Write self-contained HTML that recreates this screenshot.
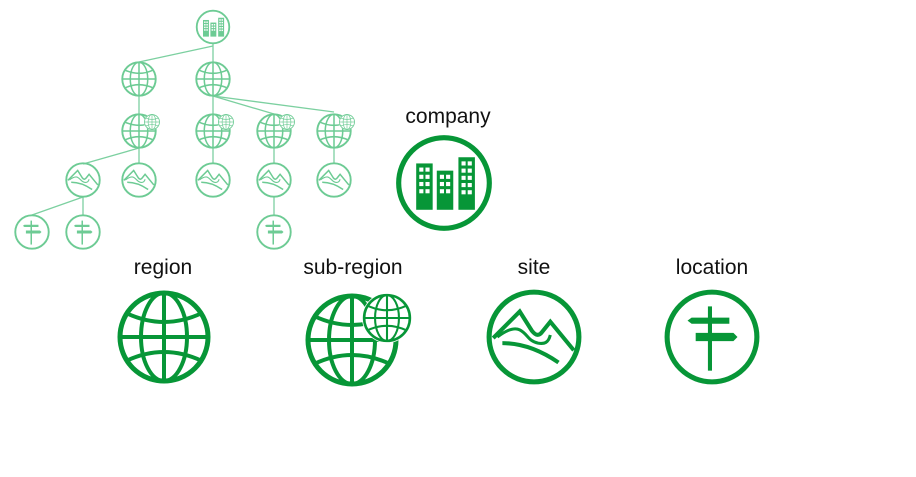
<!DOCTYPE html>
<html><head><meta charset="utf-8"><style>
html,body{margin:0;padding:0;background:#fff;}
svg{display:block;}
text{font-family:"Liberation Sans",sans-serif;font-size:21px;fill:#111;}
</style></head><body>
<svg width="916" height="477" viewBox="0 0 916 477" xmlns="http://www.w3.org/2000/svg">
<defs>
<g id="globe" fill="none">
 <circle r="44" stroke-width="5"/>
 <line x1="0" y1="-44" x2="0" y2="44" stroke-width="4"/>
 <line x1="-44" y1="0" x2="44" y2="0" stroke-width="4"/>
 <ellipse rx="23" ry="44" stroke-width="4"/>
 <path d="M-38,-24 Q0,-6 38,-24" stroke-width="4"/>
 <path d="M-38,24 Q0,6 38,24" stroke-width="4"/>
</g>
<g id="company">
 <circle r="44" fill="none" stroke-width="5"/>
 <rect x="-27" y="-19" width="16" height="45" stroke="none"/>
 <rect x="-7" y="-12" width="16" height="38" stroke="none"/>
 <rect x="14" y="-25" width="16" height="51" stroke="none"/>
 <g fill="#fff" stroke="none">
  <rect x="-24" y="-15" width="4" height="4"/><rect x="-18" y="-15" width="4" height="4"/>
  <rect x="-24" y="-8" width="4" height="4"/><rect x="-18" y="-8" width="4" height="4"/>
  <rect x="-24" y="-1" width="4" height="4"/><rect x="-18" y="-1" width="4" height="4"/>
  <rect x="-24" y="6" width="4" height="4"/><rect x="-18" y="6" width="4" height="4"/>
  <rect x="-4" y="-8" width="4" height="4"/><rect x="2" y="-8" width="4" height="4"/>
  <rect x="-4" y="-1" width="4" height="4"/><rect x="2" y="-1" width="4" height="4"/>
  <rect x="-4" y="6" width="4" height="4"/><rect x="2" y="6" width="4" height="4"/>
  <rect x="17" y="-21" width="4" height="4"/><rect x="23" y="-21" width="4" height="4"/>
  <rect x="17" y="-14" width="4" height="4"/><rect x="23" y="-14" width="4" height="4"/>
  <rect x="17" y="-7" width="4" height="4"/><rect x="23" y="-7" width="4" height="4"/>
  <rect x="17" y="0" width="4" height="4"/><rect x="23" y="0" width="4" height="4"/>
  <rect x="17" y="7" width="4" height="4"/><rect x="23" y="7" width="4" height="4"/>
 </g>
</g>
<g id="site" fill="none">
 <circle r="44" stroke-width="5"/>
 <path d="M-40,1 L-14,-25 L-2,-6 C2,-1 5,-1 8,-5 L16,-15 L39,13" stroke-width="4"/>
 <path d="M-36,0 C-28,-6 -20,-10 -14,-7 C-6,-3 -6,4 4,6 C10,7 14,6 16,-2" stroke-width="3"/>
 <path d="M-31,6 C-10,6 8,14 24,25" stroke-width="4"/>
</g>
<g id="loc">
 <circle r="44" fill="none" stroke-width="5"/>
 <rect x="-4" y="-30" width="4" height="63" stroke="none"/>
 <path d="M-20,-19 L17,-19 L17,-13 L-20,-13 L-24,-16 Z" stroke="none"/>
 <path d="M-16,-4 L21,-4 L25,0 L21,4 L-16,4 Z" stroke="none"/>
</g>
</defs>

<g stroke="#7cd0a0" fill="#7cd0a0" stroke-width="1.3">
 <line x1="213" y1="44" x2="213" y2="62"/>
 <line x1="213" y1="46" x2="139" y2="62"/>
 <line x1="139" y1="96" x2="139" y2="114"/>
 <line x1="213" y1="96" x2="213" y2="114"/>
 <line x1="213" y1="96" x2="274" y2="114"/>
 <line x1="213" y1="96" x2="334" y2="112"/>
 <line x1="139" y1="148" x2="139" y2="163"/>
 <line x1="139" y1="148" x2="83" y2="164"/>
 <line x1="213" y1="148" x2="213" y2="163"/>
 <line x1="274" y1="148" x2="274" y2="163"/>
 <line x1="334" y1="148" x2="334" y2="163"/>
 <line x1="83" y1="197" x2="83" y2="215"/>
 <line x1="83" y1="197" x2="32" y2="215"/>
 <line x1="274" y1="197" x2="274" y2="215"/>
</g>
<g stroke="#6dcb94" fill="#6dcb94">
 <use href="#company" transform="translate(213,27) scale(0.37)"/>
 <use href="#globe" transform="translate(139,79) scale(0.38)"/>
 <use href="#globe" transform="translate(213,79) scale(0.38)"/>
 <g transform="translate(139,131)"><use href="#globe" transform="scale(0.38)"/><circle cx="13" cy="-9" r="8" fill="#fff" stroke="none"/><use href="#globe" transform="translate(13,-9) scale(0.17)"/></g>
 <g transform="translate(213,131)"><use href="#globe" transform="scale(0.38)"/><circle cx="13" cy="-9" r="8" fill="#fff" stroke="none"/><use href="#globe" transform="translate(13,-9) scale(0.17)"/></g>
 <g transform="translate(274,131)"><use href="#globe" transform="scale(0.38)"/><circle cx="13" cy="-9" r="8" fill="#fff" stroke="none"/><use href="#globe" transform="translate(13,-9) scale(0.17)"/></g>
 <g transform="translate(334,131)"><use href="#globe" transform="scale(0.38)"/><circle cx="13" cy="-9" r="8" fill="#fff" stroke="none"/><use href="#globe" transform="translate(13,-9) scale(0.17)"/></g>
 <use href="#site" transform="translate(83,180) scale(0.38)"/>
 <use href="#site" transform="translate(139,180) scale(0.38)"/>
 <use href="#site" transform="translate(213,180) scale(0.38)"/>
 <use href="#site" transform="translate(274,180) scale(0.38)"/>
 <use href="#site" transform="translate(334,180) scale(0.38)"/>
 <use href="#loc" transform="translate(32,232) scale(0.38)"/>
 <use href="#loc" transform="translate(83,232) scale(0.38)"/>
 <use href="#loc" transform="translate(274,232) scale(0.38)"/>
</g>

<g stroke="#079637" fill="#079637">
 <use href="#company" transform="translate(444,183) scale(1.03)"/>
 <use href="#globe" transform="translate(164,337) scale(1.0)"/>
 <g transform="translate(352,340)">
  <use href="#globe" transform="scale(1.0)"/>
  <circle cx="35" cy="-22" r="25" fill="#fff" stroke="none"/>
  <use href="#globe" transform="translate(35,-22) scale(0.52)"/>
 </g>
 <use href="#site" transform="translate(534,337) scale(1.02)"/>
 <use href="#loc" transform="translate(712,337) scale(1.02)"/>
</g>

<text x="448" y="123" text-anchor="middle">company</text>
<text x="163" y="274" text-anchor="middle">region</text>
<text x="353" y="274" text-anchor="middle">sub-region</text>
<text x="534" y="274" text-anchor="middle">site</text>
<text x="712" y="274" text-anchor="middle">location</text>
</svg>
</body></html>
